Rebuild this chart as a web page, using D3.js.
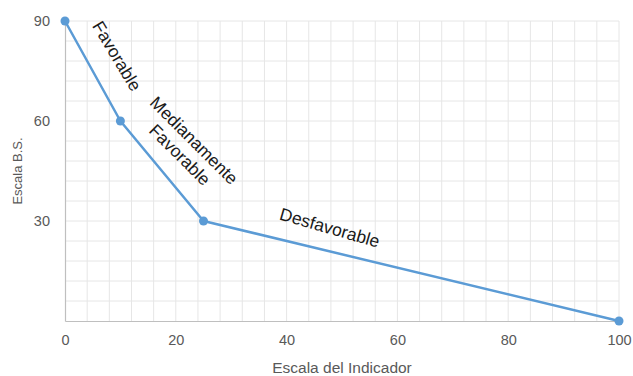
<!DOCTYPE html>
<html>
<head>
<meta charset="utf-8">
<script src="https://cdn.jsdelivr.net/npm/d3@7"></script>
<style>
    body { margin: 0; background: #fff; }
    svg text { font-family: "Liberation Sans", "DejaVu Sans", sans-serif; }
</style>
</head>
<body>
<div id="chart"></div>
<script>
// Chart data
const indicador = [0, 10, 25, 100];
const escalaBS  = [90, 60, 30, 0];

const xTicks = [0, 20, 40, 60, 80, 100];
const yTicks = [30, 60, 90];

// Zone labels: [text lines, data x, data y, rotation]
const zoneLabels = [
    { lines: ["Favorable"],                  x: 9.4,  y: 79.5, angle: 59 },
    { lines: ["Medianamente", "Favorable"],  x: 22.3, y: 52.5, angle: 45 },
    { lines: ["Desfavorable"],               x: 47.8, y: 28.0, angle: 16 }
];

const WIDTH  = 633;
const HEIGHT = 376;
const margin = { top: 21, right: 14, bottom: 55, left: 65 };

const svg = d3.select("#chart")
    .append("svg")
    .attr("width", WIDTH)
    .attr("height", HEIGHT);

const x = d3.scaleLinear()
    .domain([0, 100])
    .range([margin.left, WIDTH - margin.right]);

const y = d3.scaleLinear()
    .domain([0, 90])
    .range([HEIGHT - margin.bottom, margin.top]);

// Minor gridlines (4 units on x, 6 units on y)
const grid = svg.append("g").attr("class", "grid");

grid.selectAll("line.vx")
    .data(d3.range(4, 100.1, 4))
    .enter()
    .append("line")
    .attr("x1", (d) => x(d))
    .attr("x2", (d) => x(d))
    .attr("y1", y(0))
    .attr("y2", y(90))
    .attr("stroke", "#e6e6e6")
    .attr("stroke-width", 1);

grid.selectAll("line.hy")
    .data(d3.range(6, 90.1, 6))
    .enter()
    .append("line")
    .attr("x1", x(0))
    .attr("x2", x(100))
    .attr("y1", (d) => y(d))
    .attr("y2", (d) => y(d))
    .attr("stroke", "#e6e6e6")
    .attr("stroke-width", 1);

// Axes
const xAxis = svg.append("g")
    .attr("transform", "translate(0," + y(0) + ")")
    .call(d3.axisBottom(x).tickValues(xTicks).tickSize(0).tickPadding(14));

const yAxis = svg.append("g")
    .attr("transform", "translate(" + x(0) + ",0)")
    .call(d3.axisLeft(y).tickValues(yTicks).tickSize(0).tickPadding(15));

[xAxis, yAxis].forEach((axis) => {
    axis.select(".domain").attr("stroke", "#bfbfbf").attr("stroke-width", 1.2);
    axis.selectAll("text")
        .attr("fill", "#595959")
        .style("font-size", "14.5px")
        .style("font-family", "\"Liberation Sans\", sans-serif");
});

// Axis titles
svg.append("text")
    .attr("x", (x(0) + x(100)) / 2)
    .attr("y", 373)
    .attr("text-anchor", "middle")
    .attr("fill", "#595959")
    .style("font-size", "15.5px")
    .text("Escala del Indicador");

svg.append("text")
    .attr("transform", "translate(22," + y(45) + ") rotate(-90)")
    .attr("text-anchor", "middle")
    .attr("fill", "#595959")
    .style("font-size", "13px")
    .text("Escala B.S.");

// Series line
const points = indicador.map((d, i) => ({ x: d, y: escalaBS[i] }));

svg.append("path")
    .datum(points)
    .attr("fill", "none")
    .attr("stroke", "#5b9bd5")
    .attr("stroke-width", 2.5)
    .attr("stroke-linejoin", "round")
    .attr("d", d3.line().x((d) => x(d.x)).y((d) => y(d.y)));

svg.selectAll("circle.point")
    .data(points)
    .enter()
    .append("circle")
    .attr("class", "point")
    .attr("cx", (d) => x(d.x))
    .attr("cy", (d) => y(d.y))
    .attr("r", 4.5)
    .attr("fill", "#5b9bd5");

// Zone labels
zoneLabels.forEach((label) => {
    let text = svg.append("text")
        .attr("transform", "translate(" + x(label.x) + "," + y(label.y) + ") rotate(" + label.angle + ")")
        .attr("text-anchor", "middle")
        .attr("fill", "#1a1a1a")
        .style("font-size", "17.5px");

    label.lines.forEach((line, i) => {
        text.append("tspan")
            .attr("x", 0)
            .attr("dy", i === 0 ? (label.lines.length > 1 ? "-0.1em" : "0.35em") : "1.15em")
            .text(line);
    });
});
</script>
</body>
</html>
